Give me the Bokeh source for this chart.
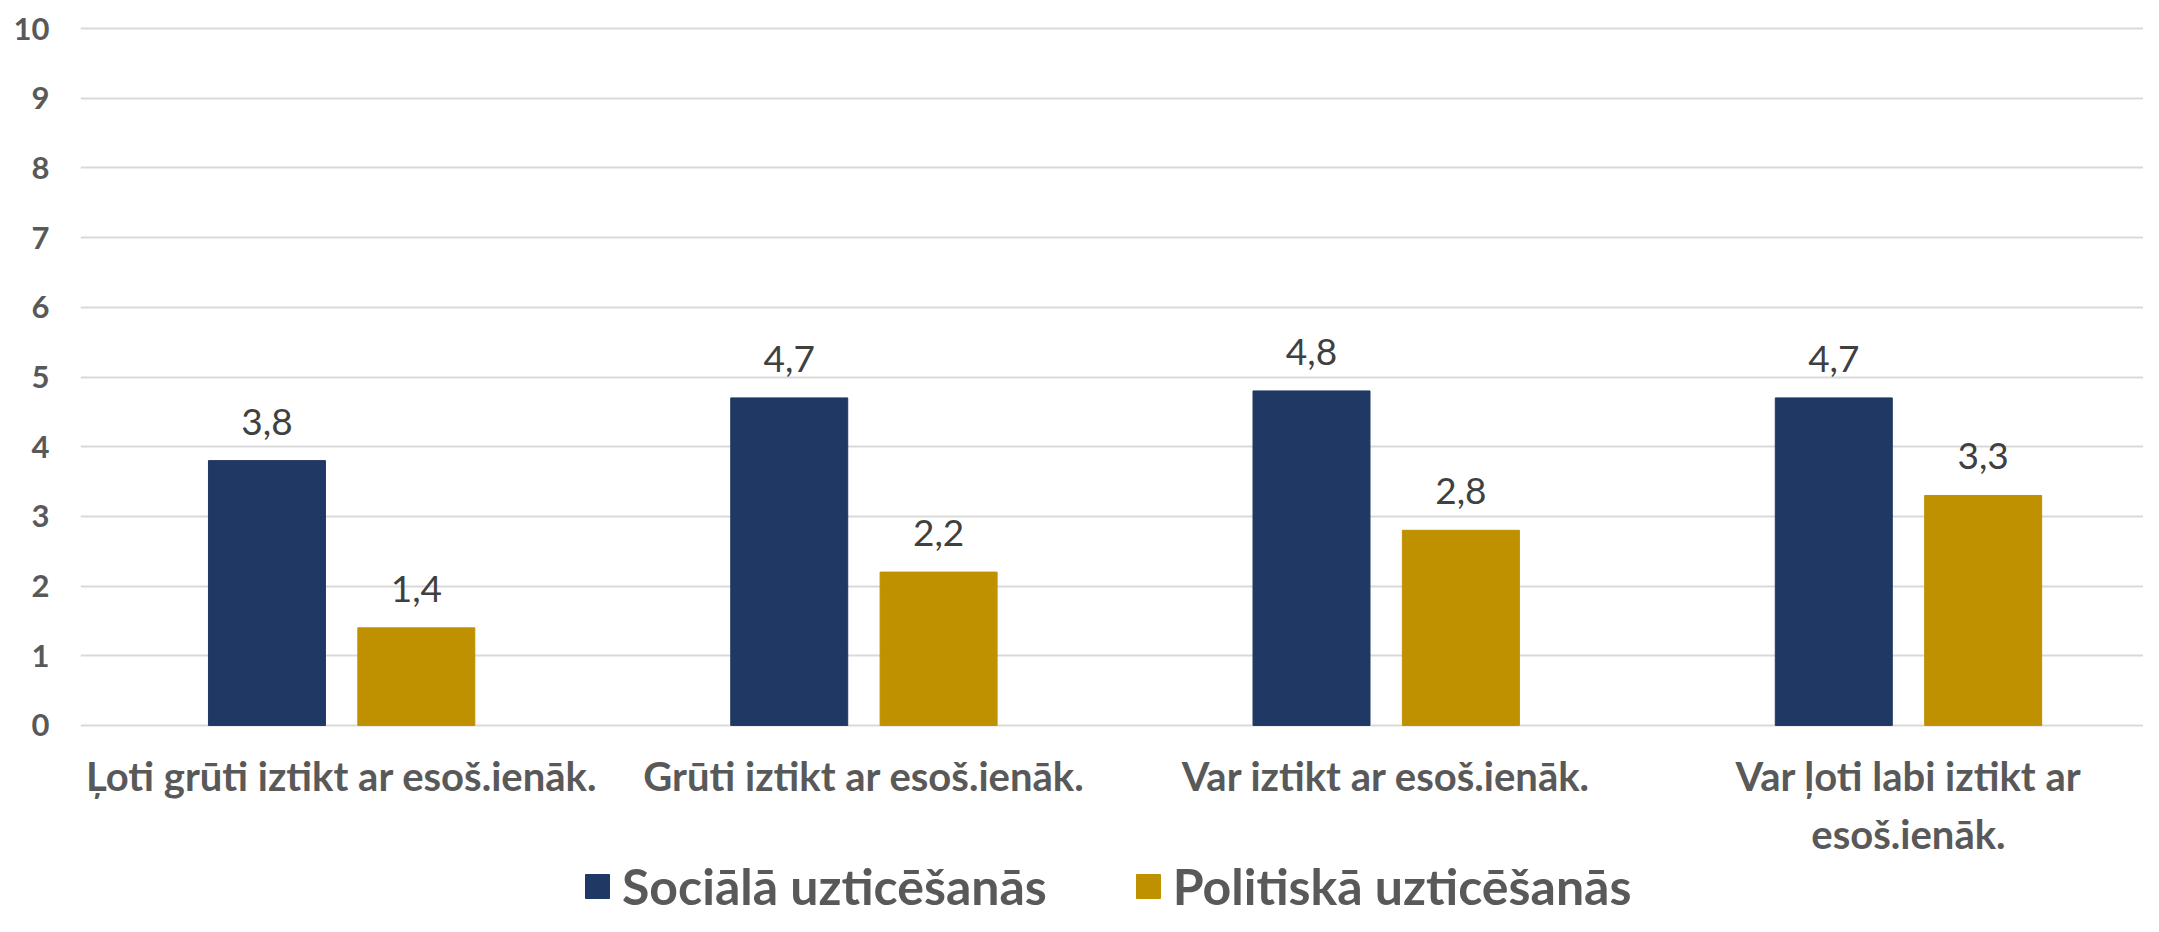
from bokeh.plotting import figure
from bokeh.models import Range1d, FixedTicker, Legend, LegendItem, ColumnDataSource
from bokeh.embed import file_html
from bokeh.resources import INLINE
from bokeh.core.properties import value

categories = ["Ļoti grūti iztikt ar esoš.ienāk.",
              "Grūti iztikt ar esoš.ienāk.",
              "Var iztikt ar esoš.ienāk.",
              "Var ļoti labi iztikt ar\nesoš.ienāk."]
social = [3.8, 4.7, 4.8, 4.7]
political = [1.4, 2.2, 2.8, 3.3]
series_names = ["Sociālā uzticēšanās", "Politiskā uzticēšanās"]
y_ticks = [0, 1, 2, 3, 4, 5, 6, 7, 8, 9, 10]

BLUE = "#203864"
GOLD = "#BF9000"
FONT = "Lato"

centers = [i + 0.5 for i in range(len(categories))]
off = 0.143
bw = 0.224

src_s = ColumnDataSource(dict(x=[c - off for c in centers], top=social,
                              lbl=[f"{v:.1f}".replace(".", ",") for v in social]))
src_p = ColumnDataSource(dict(x=[c + off for c in centers], top=political,
                              lbl=[f"{v:.1f}".replace(".", ",") for v in political]))

H = 916
TOP = 26
PPU = 701 / 10.06            # pixels per unit on the value axis
Y_END = 10.03
Y_START = Y_END - (H - TOP) / PPU   # frame extends to the bottom so the legend fits inside

p = figure(width=2143, height=H, output_backend="svg", toolbar_location=None,
           x_range=Range1d(0, 3.95), y_range=Range1d(Y_START, Y_END),
           min_border_left=80, min_border_right=0, min_border_top=TOP,
           min_border_bottom=0)
p.outline_line_color = None
p.background_fill_color = "white"
p.border_fill_color = "white"

r1 = p.vbar(x="x", top="top", width=bw, source=src_s, color=BLUE)
r2 = p.vbar(x="x", top="top", width=bw, source=src_p, color=GOLD)

for src in (src_s, src_p):
    p.text(x="x", y="top", text="lbl", source=src, text_align="center",
           text_baseline="alphabetic", y_offset=-39, text_font=value(FONT),
           text_font_size="37px", text_color="#404040")

# axes
p.yaxis.ticker = FixedTicker(ticks=y_ticks)
p.yaxis.axis_line_color = None
p.yaxis.major_tick_line_color = None
p.yaxis.minor_tick_line_color = None
p.yaxis.major_label_standoff = 25
p.yaxis.major_label_text_font = FONT
p.yaxis.major_label_text_font_style = "bold"
p.yaxis.major_label_text_font_size = "31px"
p.yaxis.major_label_text_color = "#595959"

p.xaxis.fixed_location = 0
p.xaxis.ticker = FixedTicker(ticks=centers)
p.xaxis.major_label_overrides = {c: lab for c, lab in zip(centers, categories)}
p.xaxis.axis_line_color = None
p.xaxis.major_tick_line_color = None
p.xaxis.minor_tick_line_color = None
p.xaxis.major_label_standoff = 21
p.xaxis.major_label_text_font = FONT
p.xaxis.major_label_text_font_style = "bold"
p.xaxis.major_label_text_font_size = "40px"
p.xaxis.major_label_text_color = "#595959"

p.xgrid.grid_line_color = None
p.ygrid.ticker = FixedTicker(ticks=y_ticks)
p.ygrid.grid_line_color = "#D9D9D9"
p.ygrid.grid_line_width = 2

legend = Legend(items=[LegendItem(label=series_names[0], renderers=[r1]),
                       LegendItem(label=series_names[1], renderers=[r2])],
                orientation="horizontal", location=(502, 0),
                label_text_font=FONT, label_text_font_style="bold",
                label_text_font_size="50px", label_text_color="#595959",
                glyph_width=30, glyph_height=30, label_standoff=10, spacing=86,
                border_line_color=None, background_fill_alpha=0, margin=0, padding=0)
p.add_layout(legend, "center")

open("out.html", "w").write(file_html(p, INLINE))
